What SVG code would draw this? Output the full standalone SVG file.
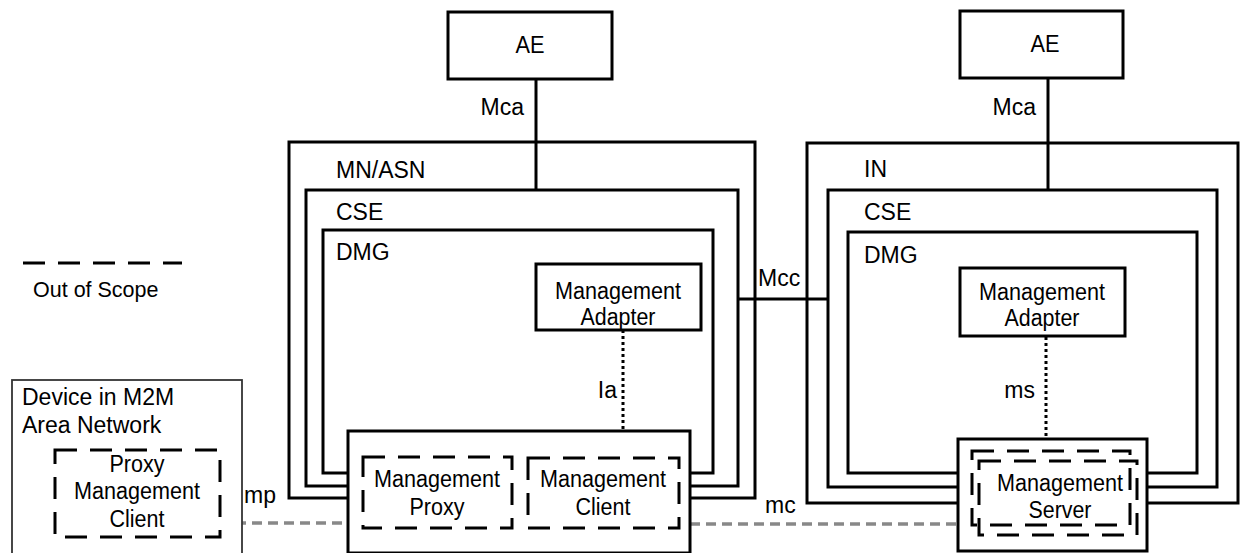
<svg xmlns="http://www.w3.org/2000/svg" width="1240" height="553" viewBox="0 0 1240 553">
<style>
.box{fill:#fff;stroke:#000;stroke-width:3}
.frame{fill:none;stroke:#000;stroke-width:3}
.dash{fill:none;stroke:#000;stroke-width:3;stroke-dasharray:22 13}
.line{fill:none;stroke:#000;stroke-width:3}
.dot{fill:none;stroke:#000;stroke-width:3;stroke-dasharray:3 3}
.gray{fill:none;stroke:#888;stroke-width:3.5;stroke-dasharray:10 6}
text{font-family:"Liberation Sans",Arial,sans-serif;fill:#000}
.t{font-size:23px;text-anchor:middle}
.l{font-size:23px}
</style>
<rect width="1240" height="553" fill="#fff"/>
<g id="legend">
<line x1="23" y1="263" x2="182" y2="263" class="dash"/>
<text x="33" y="297" style="font-size:21.5px">Out of Scope</text>
</g>
<g id="connectors">
<line x1="536" y1="79" x2="536" y2="190" class="line"/>
<line x1="1048" y1="78" x2="1048" y2="190" class="line"/>
<line x1="737" y1="299" x2="828" y2="299" class="line"/>
<line x1="623" y1="330" x2="623" y2="431" class="dot"/>
<line x1="1046" y1="337" x2="1046" y2="439" class="dot"/>
<line x1="220" y1="523" x2="348" y2="523" class="gray"/>
<line x1="690" y1="524" x2="958" y2="524" class="gray"/>
<text x="524" y="115" class="l" text-anchor="end">Mca</text>
<text x="1036" y="115" class="l" text-anchor="end">Mca</text>
<text x="758" y="286" class="l">Mcc</text>
<text x="617" y="398" class="l" text-anchor="end">Ia</text>
<text x="1035" y="398" class="l" text-anchor="end">ms</text>
<text x="244" y="503" class="l">mp</text>
<text x="765" y="513" class="l">mc</text>
</g>
<g id="ae-left">
<rect x="448" y="12" width="164" height="67" class="box"/>
<text x="530" y="53" class="t" textLength="29" lengthAdjust="spacingAndGlyphs">AE</text>
</g>
<g id="ae-right">
<rect x="960" y="11" width="163" height="67" class="box"/>
<text x="1045" y="52" class="t" textLength="29" lengthAdjust="spacingAndGlyphs">AE</text>
</g>
<g id="mn-asn">
<path d="M348,498 H289 V142 H755 V498 H690" class="frame"/>
<text x="336" y="178" class="l">MN/ASN</text>
</g>
<g id="mn-cse">
<path d="M348,486 H306 V190 H738 V486 H690" class="frame"/>
<text x="336" y="220" class="l">CSE</text>
</g>
<g id="mn-dmg">
<path d="M348,473 H323 V230 H713 V473 H690" class="frame"/>
<text x="336" y="260" class="l">DMG</text>
</g>
<g id="in">
<path d="M958,503 H807 V143 H1238 V503 H1147" class="frame"/>
<text x="864" y="177" class="l">IN</text>
</g>
<g id="in-cse">
<path d="M958,487 H828 V190 H1217 V487 H1147" class="frame"/>
<text x="864" y="220" class="l">CSE</text>
</g>
<g id="in-dmg">
<path d="M958,473 H848 V232 H1197 V473 H1147" class="frame"/>
<text x="864" y="263" class="l">DMG</text>
</g>
<g id="adapter-left">
<rect x="536" y="264" width="165" height="66" class="box"/>
<text x="618" y="299" class="t" textLength="126" lengthAdjust="spacingAndGlyphs">Management</text>
<text x="618" y="325" class="t" textLength="75" lengthAdjust="spacingAndGlyphs">Adapter</text>
</g>
<g id="adapter-right">
<rect x="960" y="268" width="165" height="68" class="box"/>
<text x="1042" y="300" class="t" textLength="126" lengthAdjust="spacingAndGlyphs">Management</text>
<text x="1042" y="326" class="t" textLength="75" lengthAdjust="spacingAndGlyphs">Adapter</text>
</g>
<g id="device">
<rect x="12" y="380" width="230" height="190" fill="#fff" stroke="#333" stroke-width="1.8"/>
<text x="22" y="405" class="l">Device in M2M</text>
<text x="22" y="433" class="l">Area Network</text>
</g>
<g id="proxy-client">
<rect x="55" y="450" width="165" height="87" class="dash"/>
<text x="137" y="472" class="t" textLength="55" lengthAdjust="spacingAndGlyphs">Proxy</text>
<text x="137" y="499" class="t" textLength="126" lengthAdjust="spacingAndGlyphs">Management</text>
<text x="137" y="527" class="t" textLength="55" lengthAdjust="spacingAndGlyphs">Client</text>
</g>
<g id="gateway-box">
<rect x="348" y="431" width="342" height="122" class="box"/>
</g>
<g id="mgmt-proxy">
<rect x="363" y="457" width="149" height="71" class="dash"/>
<text x="437" y="487" class="t" textLength="126" lengthAdjust="spacingAndGlyphs">Management</text>
<text x="437" y="515" class="t" textLength="55" lengthAdjust="spacingAndGlyphs">Proxy</text>
</g>
<g id="mgmt-client">
<rect x="528" y="458" width="151" height="70" class="dash"/>
<text x="603" y="487" class="t" textLength="126" lengthAdjust="spacingAndGlyphs">Management</text>
<text x="603" y="515" class="t" textLength="55" lengthAdjust="spacingAndGlyphs">Client</text>
</g>
<g id="mgmt-server">
<rect x="958" y="439" width="189" height="112" class="box"/>
<rect x="972" y="451" width="158" height="74" class="dash"/>
<rect x="979" y="461" width="158" height="74" class="dash"/>
<text x="1060" y="491" class="t" textLength="126" lengthAdjust="spacingAndGlyphs">Management</text>
<text x="1060" y="518" class="t" textLength="63" lengthAdjust="spacingAndGlyphs">Server</text>
</g>
</svg>
